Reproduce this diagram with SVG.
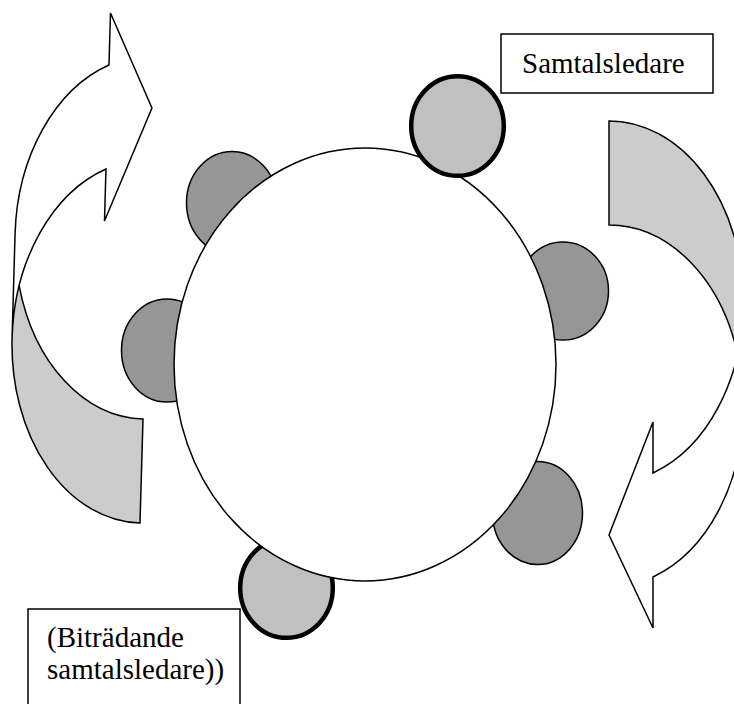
<svg xmlns="http://www.w3.org/2000/svg" width="734" height="704" viewBox="0 0 734 704">
<style>
.face{fill:#fff;stroke:none}
.back{fill:#ccc;stroke:none}
.edge{fill:none;stroke:#000;stroke-width:1.5;stroke-linejoin:miter}
.seat{fill:#969696;stroke:#000;stroke-width:1.5}
.lead{fill:#c0c0c0;stroke:#000;stroke-width:4.5}
.table{fill:#fff;stroke:#000;stroke-width:1.5}
.box{fill:#fff;stroke:#000;stroke-width:1.5}
.lbl{font-family:"Liberation Serif","Times New Roman",serif;font-size:29px;fill:#000}
</style>
<rect width="734" height="704" fill="#fff"/>
<g id="arrows">
<g id="arrow-left" transform="rotate(1.65 140 523)">
<path class="face" d="M6.8 341.4 A133.2 181.6 0 0 1 95.8 170.1 L95.8 222.2 L140 107.8 L95.8 14 L95.8 66.1 A133.2 181.6 0 0 0 6.8 237.4 Z"/>
<path class="back" d="M140 419 A133.2 181.6 0 0 1 12.4 289.4 A133.2 181.6 0 0 0 140 523 Z"/>
<path class="edge" d="M6.8 341.4 A133.2 181.6 0 0 1 95.8 170.1 L95.8 222.2 L140 107.8 L95.8 14 L95.8 66.1 A133.2 181.6 0 0 0 6.8 237.4 L6.8 341.4 A133.2 181.6 0 0 0 140 523 L140 419 A133.2 181.6 0 0 1 12.4 289.4"/>
</g>
<g id="arrow-right">
<path class="face" d="M743.3 302 A134.3 181 0 0 1 653 473 L653 422 L609 535 L653 628 L653 577 A134.3 181 0 0 0 743.3 406 Z"/>
<path class="back" d="M609 225 A134.3 181 0 0 1 737.6 354 A134.3 181 0 0 0 609 121 Z"/>
<path class="edge" d="M743.3 302 A134.3 181 0 0 1 653 473 L653 422 L609 535 L653 628 L653 577 A134.3 181 0 0 0 743.3 406 L743.3 302 A134.3 181 0 0 0 609 121 L609 225 A134.3 181 0 0 1 737.6 354"/>
</g>
</g>
<g id="seat-top-left"><ellipse class="seat" cx="232" cy="203" rx="45.5" ry="51.5"/></g>
<g id="seat-left"><ellipse class="seat" cx="167" cy="350.5" rx="45.5" ry="51.5"/></g>
<g id="seat-right"><ellipse class="seat" cx="563" cy="291" rx="45.5" ry="49"/></g>
<g id="seat-bottom-right"><ellipse class="seat" cx="537.5" cy="513" rx="45" ry="51.5"/></g>
<g id="assistant-seat"><ellipse class="lead" cx="286.5" cy="588" rx="46.3" ry="49.8"/></g>
<g id="table"><ellipse class="table" cx="365" cy="364.5" rx="191" ry="216.5"/></g>
<g id="leader-seat"><ellipse class="lead" cx="457.5" cy="126" rx="46.3" ry="49.8"/></g>
<g id="label-leader">
<rect class="box" x="501" y="34" width="212" height="59"/>
<text class="lbl" x="522" y="73">Samtalsledare</text>
</g>
<g id="label-assistant">
<rect class="box" x="28" y="609" width="212" height="110"/>
<text class="lbl" x="47" y="647">(Biträdande</text>
<text class="lbl" x="47" y="679">samtalsledare))</text>
</g>
</svg>
